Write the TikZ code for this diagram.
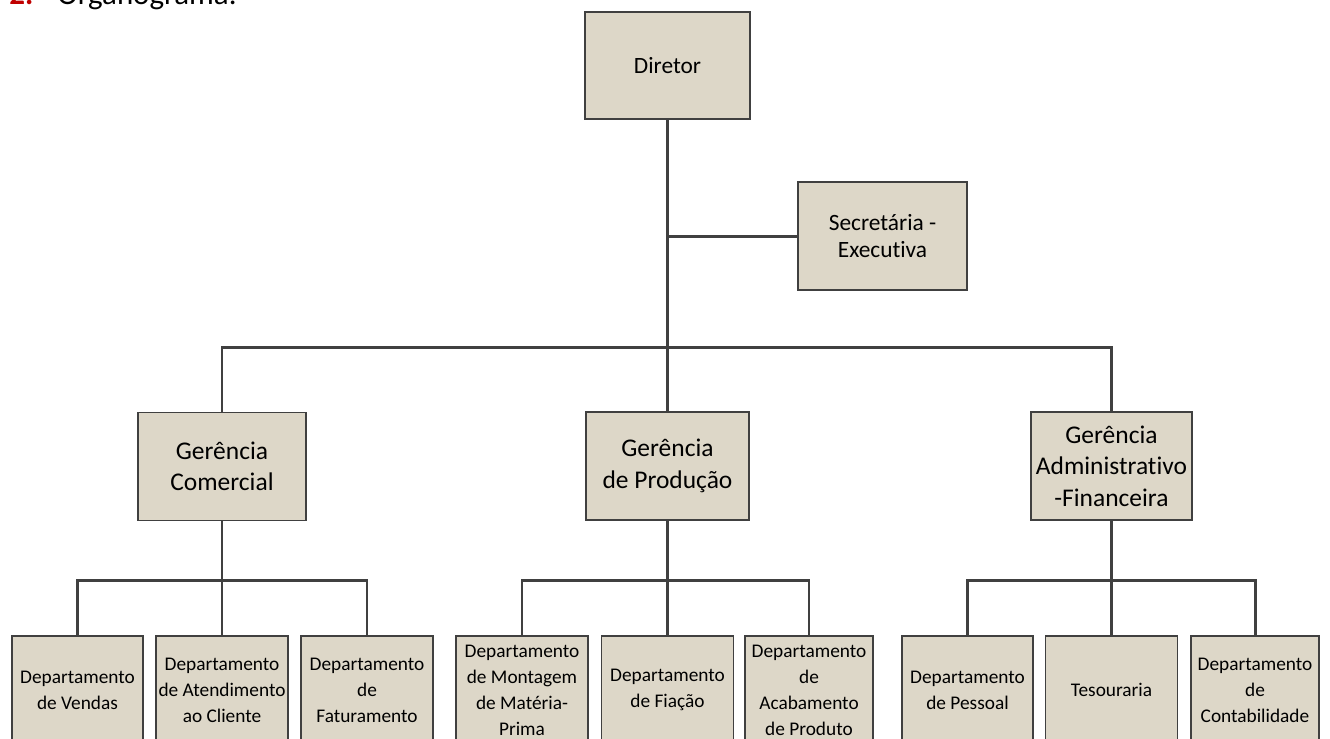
\documentclass[tikz,border=0pt]{standalone}
\usepackage{fontspec}
\setmainfont{Carlito}[Ligatures=NoCommon]
\usetikzlibrary{positioning,calc}
\definecolor{orgTan}{RGB}{221,215,200}
\definecolor{orgLine}{RGB}{64,64,64}
\definecolor{orgRed}{RGB}{192,0,0}

\begin{document}
\begin{tikzpicture}[
  x=0.02cm, y=-0.02cm,
  unit/.style={
    draw=orgLine,
    line width=1pt,
    fill=orgTan,
    inner sep=0pt,
    align=center
  },
  topbox/.style={unit,minimum width=165*0.02cm, minimum height=107*0.02cm,
    font=\fontsize{13.3pt}{15.2pt}\selectfont},
  mgrbox/.style={unit,minimum width=164*0.02cm,minimum height=108*0.02cm,
    font=\fontsize{14.5pt}{18pt}\selectfont},
  deptbox/.style={unit,minimum width=132*0.02cm,minimum height=108*0.02cm,
    font=\fontsize{11pt}{14.8pt}\selectfont},
  link/.style={draw=orgLine,line width=1.7pt}
]
  \useasboundingbox (0,0) rectangle (1330,738);

  % heading, cut by the page edge
  \node[anchor=base west,inner sep=0pt,text=orgRed,font=\fontsize{17.6pt}{20pt}\selectfont\bfseries] (hdrnum) at (9,4) {2.};
  \node[anchor=base west,inner sep=0pt,font=\fontsize{17.6pt}{20pt}\selectfont] (hdrtitle) at (57,4) {Organograma:};

  % top level
  \node[topbox] (diretor) at (667.5,65.5) {Diretor};
  \node[topbox,minimum width=169*0.02cm,minimum height=108*0.02cm] (secret) at (882.5,236) {Secretária -\\Executiva};

  % managers
  \node[mgrbox,minimum width=168*0.02cm] (gcom) at (222,466.5) {Gerência\\Comercial};
  \node[mgrbox,minimum width=163*0.02cm] (gprod) at (667.5,466) {Gerência\\de Produção};
  \node[mgrbox,minimum width=161*0.02cm] (gadm) at (1111.5,466) {Gerência\\Administrativo\\-Financeira};

  % departments
  \node[deptbox,minimum width=131*0.02cm] (dvendas) at (77.5,690) {Departamento\\de Vendas};
  \node[deptbox] (datend) at (222,690) {Departamento\\de Atendimento\\ao Cliente};
  \node[deptbox] (dfatur) at (367,690) {Departamento\\de\\Faturamento};
  \node[deptbox] (dmont) at (522,690) {Departamento\\de Montagem\\de Matéria-\\Prima};
  \node[deptbox] (dfiac) at (667.5,690) {Departamento\\de Fiação};
  \node[deptbox,minimum width=128*0.02cm] (dacab) at (809,690) {Departamento\\de\\Acabamento\\de Produto};
  \node[deptbox,minimum width=131*0.02cm] (dpess) at (967.5,690) {Departamento\\de Pessoal};
  \node[deptbox] (tesour) at (1111.5,690) {Tesouraria};
  \node[deptbox,minimum width=128*0.02cm] (dcont) at (1255,690) {Departamento\\de\\Contabilidade};

  % junctions
  \coordinate (mainbus) at (667.5,347);
  \coordinate (combus) at (222,580);
  \coordinate (prodbus) at (667.5,580);
  \coordinate (admbus) at (1111.5,580);

  % connectors
  \draw[link] (diretor.south) -- (gprod.north);
  \draw[link] (secret.west) -- (secret.west -| diretor.south);
  \draw[link] (gcom.north) |- (mainbus) -| (gadm.north);

  \draw[link] (gcom.south) -- (datend.north);
  \draw[link] (dvendas.north) |- (combus) -| (dfatur.north);

  \draw[link] (gprod.south) -- (dfiac.north);
  \draw[link] (dmont.north) |- (prodbus) -| (dacab.north);

  \draw[link] (gadm.south) -- (tesour.north);
  \draw[link] (dpess.north) |- (admbus) -| (dcont.north);
\end{tikzpicture}
\end{document}
